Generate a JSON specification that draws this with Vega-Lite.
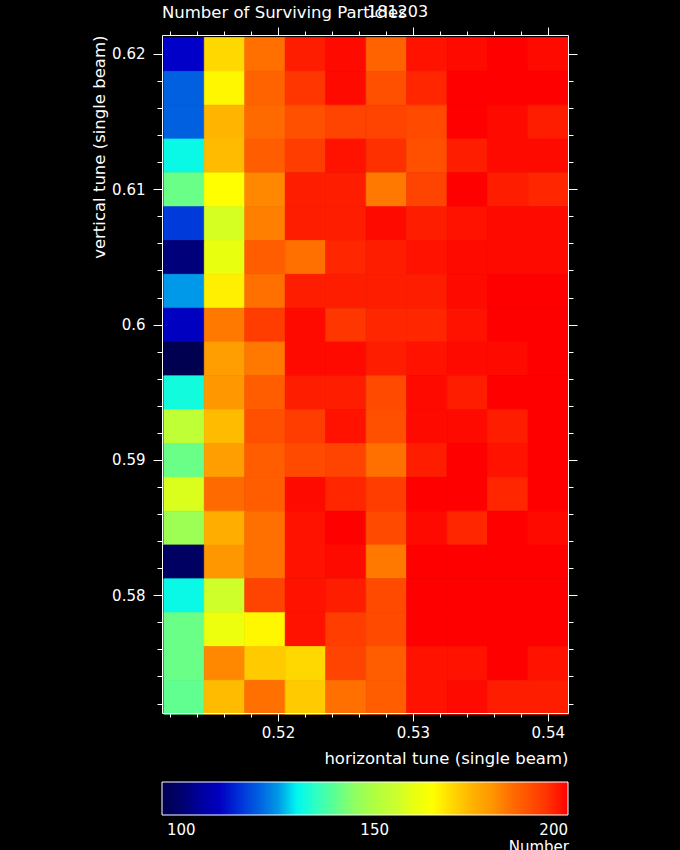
{
  "$schema": "https://vega.github.io/schema/vega-lite/v6.json",
  "width": 406,
  "height": 678,
  "autosize": {"type": "none"},
  "padding": {"left": 162, "top": 35, "right": 112, "bottom": 137},
  "background": "black",
  "title": {"text": "Number of Surviving Particles", "anchor": "start", "frame": "group", "color": "white", "font": "DejaVu Sans", "fontSize": 16.5, "fontWeight": "normal", "offset": -17},
  "data": {"values": [
    {"t":0.62,"h":0.513,"v":111},{"t":0.62,"h":0.516,"v":170},{"t":0.62,"h":0.519,"v":185},{"t":0.62,"h":0.522,"v":197},{"t":0.62,"h":0.525,"v":199},{"t":0.62,"h":0.528,"v":187},{"t":0.62,"h":0.531,"v":198},{"t":0.62,"h":0.534,"v":199},{"t":0.62,"h":0.537,"v":200},{"t":0.62,"h":0.54,"v":199},
    {"t":0.6175,"h":0.513,"v":120},{"t":0.6175,"h":0.516,"v":166},{"t":0.6175,"h":0.519,"v":187},{"t":0.6175,"h":0.522,"v":194},{"t":0.6175,"h":0.525,"v":199},{"t":0.6175,"h":0.528,"v":190},{"t":0.6175,"h":0.531,"v":196},{"t":0.6175,"h":0.534,"v":200},{"t":0.6175,"h":0.537,"v":200},{"t":0.6175,"h":0.54,"v":200},
    {"t":0.615,"h":0.513,"v":120},{"t":0.615,"h":0.516,"v":175},{"t":0.615,"h":0.519,"v":186},{"t":0.615,"h":0.522,"v":190},{"t":0.615,"h":0.525,"v":192},{"t":0.615,"h":0.528,"v":192},{"t":0.615,"h":0.531,"v":191},{"t":0.615,"h":0.534,"v":200},{"t":0.615,"h":0.537,"v":199},{"t":0.615,"h":0.54,"v":197},
    {"t":0.6125,"h":0.513,"v":131},{"t":0.6125,"h":0.516,"v":174},{"t":0.6125,"h":0.519,"v":188},{"t":0.6125,"h":0.522,"v":193},{"t":0.6125,"h":0.525,"v":198},{"t":0.6125,"h":0.528,"v":195},{"t":0.6125,"h":0.531,"v":190},{"t":0.6125,"h":0.534,"v":197},{"t":0.6125,"h":0.537,"v":199},{"t":0.6125,"h":0.54,"v":199},
    {"t":0.61,"h":0.513,"v":141},{"t":0.61,"h":0.516,"v":165},{"t":0.61,"h":0.519,"v":182},{"t":0.61,"h":0.522,"v":197},{"t":0.61,"h":0.525,"v":197},{"t":0.61,"h":0.528,"v":184},{"t":0.61,"h":0.531,"v":192},{"t":0.61,"h":0.534,"v":200},{"t":0.61,"h":0.537,"v":197},{"t":0.61,"h":0.54,"v":196},
    {"t":0.6075,"h":0.513,"v":116},{"t":0.6075,"h":0.516,"v":157},{"t":0.6075,"h":0.519,"v":183},{"t":0.6075,"h":0.522,"v":197},{"t":0.6075,"h":0.525,"v":197},{"t":0.6075,"h":0.528,"v":199},{"t":0.6075,"h":0.531,"v":197},{"t":0.6075,"h":0.534,"v":198},{"t":0.6075,"h":0.537,"v":199},{"t":0.6075,"h":0.54,"v":199},
    {"t":0.605,"h":0.513,"v":101},{"t":0.605,"h":0.516,"v":160},{"t":0.605,"h":0.519,"v":188},{"t":0.605,"h":0.522,"v":185},{"t":0.605,"h":0.525,"v":196},{"t":0.605,"h":0.528,"v":197},{"t":0.605,"h":0.531,"v":198},{"t":0.605,"h":0.534,"v":199},{"t":0.605,"h":0.537,"v":199},{"t":0.605,"h":0.54,"v":199},
    {"t":0.6025,"h":0.513,"v":125},{"t":0.6025,"h":0.516,"v":167},{"t":0.6025,"h":0.519,"v":185},{"t":0.6025,"h":0.522,"v":197},{"t":0.6025,"h":0.525,"v":197},{"t":0.6025,"h":0.528,"v":197},{"t":0.6025,"h":0.531,"v":197},{"t":0.6025,"h":0.534,"v":199},{"t":0.6025,"h":0.537,"v":200},{"t":0.6025,"h":0.54,"v":200},
    {"t":0.6,"h":0.513,"v":110},{"t":0.6,"h":0.516,"v":184},{"t":0.6,"h":0.519,"v":193},{"t":0.6,"h":0.522,"v":199},{"t":0.6,"h":0.525,"v":194},{"t":0.6,"h":0.528,"v":196},{"t":0.6,"h":0.531,"v":196},{"t":0.6,"h":0.534,"v":198},{"t":0.6,"h":0.537,"v":200},{"t":0.6,"h":0.54,"v":200},
    {"t":0.5975,"h":0.513,"v":95},{"t":0.5975,"h":0.516,"v":179},{"t":0.5975,"h":0.519,"v":184},{"t":0.5975,"h":0.522,"v":199},{"t":0.5975,"h":0.525,"v":199},{"t":0.5975,"h":0.528,"v":197},{"t":0.5975,"h":0.531,"v":198},{"t":0.5975,"h":0.534,"v":199},{"t":0.5975,"h":0.537,"v":199},{"t":0.5975,"h":0.54,"v":200},
    {"t":0.595,"h":0.513,"v":132},{"t":0.595,"h":0.516,"v":180},{"t":0.595,"h":0.519,"v":188},{"t":0.595,"h":0.522,"v":197},{"t":0.595,"h":0.525,"v":197},{"t":0.595,"h":0.528,"v":191},{"t":0.595,"h":0.531,"v":199},{"t":0.595,"h":0.534,"v":197},{"t":0.595,"h":0.537,"v":200},{"t":0.595,"h":0.54,"v":200},
    {"t":0.5925,"h":0.513,"v":153},{"t":0.5925,"h":0.516,"v":174},{"t":0.5925,"h":0.519,"v":190},{"t":0.5925,"h":0.522,"v":193},{"t":0.5925,"h":0.525,"v":198},{"t":0.5925,"h":0.528,"v":190},{"t":0.5925,"h":0.531,"v":199},{"t":0.5925,"h":0.534,"v":199},{"t":0.5925,"h":0.537,"v":197},{"t":0.5925,"h":0.54,"v":200},
    {"t":0.59,"h":0.513,"v":141},{"t":0.59,"h":0.516,"v":179},{"t":0.59,"h":0.519,"v":188},{"t":0.59,"h":0.522,"v":191},{"t":0.59,"h":0.525,"v":192},{"t":0.59,"h":0.528,"v":185},{"t":0.59,"h":0.531,"v":197},{"t":0.59,"h":0.534,"v":200},{"t":0.59,"h":0.537,"v":198},{"t":0.59,"h":0.54,"v":200},
    {"t":0.5875,"h":0.513,"v":158},{"t":0.5875,"h":0.516,"v":186},{"t":0.5875,"h":0.519,"v":188},{"t":0.5875,"h":0.522,"v":199},{"t":0.5875,"h":0.525,"v":196},{"t":0.5875,"h":0.528,"v":193},{"t":0.5875,"h":0.531,"v":200},{"t":0.5875,"h":0.534,"v":200},{"t":0.5875,"h":0.537,"v":196},{"t":0.5875,"h":0.54,"v":200},
    {"t":0.585,"h":0.513,"v":147},{"t":0.585,"h":0.516,"v":176},{"t":0.585,"h":0.519,"v":185},{"t":0.585,"h":0.522,"v":198},{"t":0.585,"h":0.525,"v":200},{"t":0.585,"h":0.528,"v":191},{"t":0.585,"h":0.531,"v":199},{"t":0.585,"h":0.534,"v":196},{"t":0.585,"h":0.537,"v":200},{"t":0.585,"h":0.54,"v":199},
    {"t":0.5825,"h":0.513,"v":99},{"t":0.5825,"h":0.516,"v":180},{"t":0.5825,"h":0.519,"v":185},{"t":0.5825,"h":0.522,"v":198},{"t":0.5825,"h":0.525,"v":199},{"t":0.5825,"h":0.528,"v":184},{"t":0.5825,"h":0.531,"v":200},{"t":0.5825,"h":0.534,"v":200},{"t":0.5825,"h":0.537,"v":200},{"t":0.5825,"h":0.54,"v":200},
    {"t":0.58,"h":0.513,"v":131},{"t":0.58,"h":0.516,"v":156},{"t":0.58,"h":0.519,"v":192},{"t":0.58,"h":0.522,"v":198},{"t":0.58,"h":0.525,"v":197},{"t":0.58,"h":0.528,"v":191},{"t":0.58,"h":0.531,"v":200},{"t":0.58,"h":0.534,"v":200},{"t":0.58,"h":0.537,"v":200},{"t":0.58,"h":0.54,"v":200},
    {"t":0.5775,"h":0.513,"v":141},{"t":0.5775,"h":0.516,"v":161},{"t":0.5775,"h":0.519,"v":166},{"t":0.5775,"h":0.522,"v":198},{"t":0.5775,"h":0.525,"v":193},{"t":0.5775,"h":0.528,"v":191},{"t":0.5775,"h":0.531,"v":200},{"t":0.5775,"h":0.534,"v":200},{"t":0.5775,"h":0.537,"v":200},{"t":0.5775,"h":0.54,"v":200},
    {"t":0.575,"h":0.513,"v":141},{"t":0.575,"h":0.516,"v":182},{"t":0.575,"h":0.519,"v":172},{"t":0.575,"h":0.522,"v":170},{"t":0.575,"h":0.525,"v":192},{"t":0.575,"h":0.528,"v":188},{"t":0.575,"h":0.531,"v":198},{"t":0.575,"h":0.534,"v":198},{"t":0.575,"h":0.537,"v":200},{"t":0.575,"h":0.54,"v":198},
    {"t":0.5725,"h":0.513,"v":140},{"t":0.5725,"h":0.516,"v":174},{"t":0.5725,"h":0.519,"v":185},{"t":0.5725,"h":0.522,"v":172},{"t":0.5725,"h":0.525,"v":185},{"t":0.5725,"h":0.528,"v":188},{"t":0.5725,"h":0.531,"v":198},{"t":0.5725,"h":0.534,"v":199},{"t":0.5725,"h":0.537,"v":197},{"t":0.5725,"h":0.54,"v":197}
  ]},
  "resolve": {"axis": {"x": "independent", "y": "independent"}},
  "layer": [
    {
      "mark": {"type": "rect", "binSpacing": 0, "stroke": {"expr": "scale('color', datum.v)"}, "strokeWidth": 0.8},
      "encoding": {
        "x": {"field": "h", "type": "quantitative", "bin": {"step": 0.003, "extent": [0.5115, 0.5415], "anchor": 0.5115, "nice": false},
          "scale": {"domain": [0.5114, 0.5415], "nice": false, "zero": false},
          "axis": {"orient": "bottom", "values": [0.512,0.514,0.516,0.518,0.52,0.522,0.524,0.526,0.528,0.53,0.532,0.534,0.536,0.538,0.54],
            "tickSize": {"condition": {"test": "abs(datum.value*100 - round(datum.value*100)) < 0.001", "value": 8}, "value": 4},
            "labelExpr": "abs(datum.value*100 - round(datum.value*100)) < 0.001 ? format(datum.value, '.2~f') : ''",
            "labelOverlap": false, "labelFlush": false, "labelBound": false, "labelPadding": 4,
            "title": "horizontal tune (single beam)", "titleAnchor": "end", "titlePadding": 10}},
        "y": {"field": "t", "type": "quantitative", "bin": {"step": 0.0025, "extent": [0.57125, 0.62125], "anchor": 0.57125, "nice": false},
          "scale": {"domain": [0.5713, 0.6214], "nice": false, "zero": false},
          "axis": {"orient": "left", "values": [0.572,0.574,0.576,0.578,0.58,0.582,0.584,0.586,0.588,0.59,0.592,0.594,0.596,0.598,0.6,0.602,0.604,0.606,0.608,0.61,0.612,0.614,0.616,0.618,0.62],
            "tickSize": {"condition": {"test": "abs(datum.value*100 - round(datum.value*100)) < 0.001", "value": 9}, "value": 5},
            "labelExpr": "abs(datum.value*100 - round(datum.value*100)) < 0.001 ? format(datum.value, '.2~f') : ''",
            "labelOverlap": false, "labelFlush": false, "labelBound": false, "labelPadding": 8,
            "title": "vertical tune (single beam)", "titleAnchor": "end", "titlePadding": 4}},
        "color": {"field": "v", "type": "quantitative",
          "scale": {"domain": [95, 98, 103, 111, 115, 120, 125, 130, 135, 140, 145, 150, 155, 160, 165, 170, 175, 180, 185, 190, 195, 200],
            "range": ["#000050", "#000058", "#000090", "#0000c8", "#0030d8", "#0060e0", "#0098e8", "#00f8f0", "#30ffc0", "#60ff90", "#90ff60", "#b0ff40", "#c8ff30", "#e8ff10", "#ffff00", "#ffd800", "#ffb400", "#ff9800", "#ff7000", "#ff5000", "#ff3000", "#ff0000"],
            "interpolate": "rgb"},
          "legend": {"orient": "none", "legendX": 0, "legendY": 747, "direction": "horizontal", "gradientLength": 406, "gradientThickness": 33,
            "values": [100, 150, 200], "title": "Number", "titleOrient": "bottom", "titleAnchor": "end", "titleColor": "white", "titleFont": "DejaVu Sans",
            "titleFontSize": 15, "titleFontWeight": "normal", "titlePadding": 2, "labelColor": "white", "labelFont": "DejaVu Sans", "labelFontSize": 15,
            "labelAlign": "center", "labelOffset": 8, "labelOverlap": false, "gradientStrokeColor": "white", "gradientStrokeWidth": 1, "padding": 0}}
      }
    },
    {
      "mark": {"type": "rect", "opacity": 0, "binSpacing": 0},
      "encoding": {
        "x": {"field": "h", "type": "quantitative", "bin": {"step": 0.003, "extent": [0.5115, 0.5415], "anchor": 0.5115, "nice": false},
          "axis": {"orient": "top", "values": [0.512,0.514,0.516,0.518,0.52,0.522,0.524,0.526,0.528,0.53,0.532,0.534,0.536,0.538,0.54],
            "tickSize": {"condition": {"test": "abs(datum.value*100 - round(datum.value*100)) < 0.001", "value": 8}, "value": 4},
            "labels": false, "title": null}},
        "y": {"field": "t", "type": "quantitative", "bin": {"step": 0.0025, "extent": [0.57125, 0.62125], "anchor": 0.57125, "nice": false},
          "axis": {"orient": "right", "values": [0.572,0.574,0.576,0.578,0.58,0.582,0.584,0.586,0.588,0.59,0.592,0.594,0.596,0.598,0.6,0.602,0.604,0.606,0.608,0.61,0.612,0.614,0.616,0.618,0.62],
            "tickSize": {"condition": {"test": "abs(datum.value*100 - round(datum.value*100)) < 0.001", "value": 9}, "value": 5},
            "labels": false, "title": null}}
      }
    },
    {
      "data": {"values": [{"label": "181203"}]},
      "mark": {"type": "text", "align": "left", "baseline": "alphabetic", "color": "white", "font": "DejaVu Sans", "fontSize": 16},
      "encoding": {
        "x": {"datum": 0.5266, "type": "quantitative", "axis": null},
        "y": {"datum": 0.6227, "type": "quantitative", "axis": null},
        "text": {"field": "label", "type": "nominal"}
      }
    }
  ],
  "config": {
    "font": "DejaVu Sans",
    "view": {"stroke": null},
    "axis": {"domainColor": "white", "tickColor": "white", "labelColor": "white", "titleColor": "white", "labelFont": "DejaVu Sans", "titleFont": "DejaVu Sans",
      "labelFontSize": 15, "titleFontSize": 16.5, "titleFontWeight": "normal", "grid": false, "domainWidth": 1, "tickWidth": 1}
  }
}
